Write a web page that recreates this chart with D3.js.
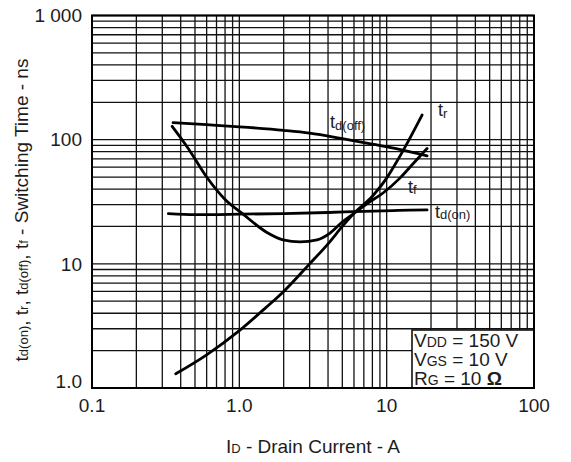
<!DOCTYPE html>
<html>
<head>
<meta charset="utf-8">
<script src="https://cdn.jsdelivr.net/npm/d3@7/dist/d3.min.js"></script>
<style>
  html, body { margin: 0; padding: 0; background: #fff; }
  svg { display: block; }
  text { font-family: "Liberation Sans", Arial, Helvetica, sans-serif; fill: #1c1c1c; }
</style>
</head>
<body>
<svg id="chart" width="571" height="462"></svg>
<script>
// Switching time vs. drain current (log-log)
const xTickValues = [0.1, 1, 10, 100];
const xTickLabels = ["0.1", "1.0", "10", "100"];
const yTickValues = [1, 10, 100, 1000];
const yTickLabels = ["1.0", "10", "100", "1 000"];

// td(on)
const tdOnCurrent = [0.33, 0.5, 1.0, 2.0, 4.0, 7.0, 12, 18.8];
const tdOnTime    = [25.4, 24.9, 25.1, 25.4, 25.9, 26.5, 26.9, 27.2];
// td(off)
const tdOffCurrent = [0.355, 0.6, 1.0, 2.0, 3.0, 5.0, 8.0, 12, 18.8];
const tdOffTime    = [137, 132, 127, 119, 113, 102, 92, 84, 74];
// tr
const trCurrent = [0.37, 0.6, 1.0, 1.5, 2.0, 3.0, 4.0, 5.0, 6.0, 8.0, 10, 12, 14, 17.4];
const trTime    = [1.3, 1.85, 2.9, 4.4, 6.0, 10.0, 14.5, 20, 25.5, 35, 49, 70, 97, 158];
// tf
const tfCurrent = [0.35, 0.45, 0.6, 0.8, 1.04, 1.54, 1.98, 2.58, 3.37, 4.13, 5.06, 6.0, 7.5, 9.45, 12.3, 15.1, 18.8];
const tfTime    = [128, 85, 50, 33, 25.6, 17.9, 15.6, 15.0, 15.6, 17.7, 22.0, 25.5, 31, 37.2, 49, 64, 85];

// label anchors in data units [current, time]
const labelAnchors = { "tr": [22.3, 155], "td(off)": [4.13, 124], "tf": [13.96, 37.2], "td(on)": [21.3, 23.4] };

const svg = d3.select("#chart");
const plotLeft = 92, plotRight = 534, plotTop = 15.5, plotBottom = 388;

const x = d3.scaleLog().domain([0.1, 100]).range([plotLeft, plotRight]);
const y = d3.scaleLog().domain([1, 1000]).range([plotBottom, plotTop]);

// grid: 1..9 within each decade
const xGrid = [];
[0.1, 1, 10].forEach(d => { for (let k = 1; k <= 9; k++) xGrid.push(d * k); });
xGrid.push(100);
const yGrid = [];
[1, 10, 100].forEach(d => { for (let k = 1; k <= 9; k++) yGrid.push(d * k); });
yGrid.push(1000);

const grid = svg.append("g").attr("stroke", "#111").attr("stroke-width", 1.3);
grid.selectAll("line.v").data(xGrid).join("line").attr("class", "v")
  .attr("x1", d => x(d)).attr("x2", d => x(d))
  .attr("y1", plotTop).attr("y2", plotBottom);
grid.selectAll("line.h").data(yGrid).join("line").attr("class", "h")
  .attr("y1", d => y(d)).attr("y2", d => y(d))
  .attr("x1", plotLeft).attr("x2", plotRight);

// condition box (covers grid)
const boxLeft = 412, boxTop = 330;
svg.append("rect")
  .attr("x", boxLeft).attr("y", boxTop)
  .attr("width", plotRight - boxLeft).attr("height", plotBottom - boxTop)
  .attr("fill", "#fff").attr("stroke", "#111").attr("stroke-width", 1.6);

// frame
svg.append("rect")
  .attr("x", plotLeft).attr("y", plotTop)
  .attr("width", plotRight - plotLeft).attr("height", plotBottom - plotTop)
  .attr("fill", "none").attr("stroke", "#000").attr("stroke-width", 2);

// curves
const line = d3.line()
  .x(d => x(d[0])).y(d => y(d[1]))
  .curve(d3.curveMonotoneX);
const series = [
  d3.zip(tdOnCurrent, tdOnTime),
  d3.zip(tdOffCurrent, tdOffTime),
  d3.zip(trCurrent, trTime),
  d3.zip(tfCurrent, tfTime)
];
svg.append("g").selectAll("path").data(series).join("path")
  .attr("d", line)
  .attr("fill", "none").attr("stroke", "#000")
  .attr("stroke-width", 2.8).attr("stroke-linecap", "round");

// curve labels: large "t" with smaller suffix
Object.entries(labelAnchors).forEach(([name, [cx, cy]]) => {
  const t = svg.append("text")
    .attr("x", x(cx)).attr("y", y(cy));
  t.append("tspan").attr("font-size", 18).text("t");
  t.append("tspan").attr("font-size", 13).attr("dy", 1.5).text(name.slice(1));
});

// axis tick labels
svg.append("g").selectAll("text").data(xTickValues).join("text")
  .attr("x", d => x(d)).attr("y", 412)
  .attr("text-anchor", "middle").attr("font-size", 19)
  .text((d, i) => xTickLabels[i]);

svg.append("g").selectAll("text").data(yTickValues).join("text")
  .attr("x", 82).attr("y", d => y(d))
  .attr("dy", d => d === 1 ? 0 : 6.8)
  .attr("text-anchor", "end").attr("font-size", 19)
  .text((d, i) => yTickLabels[i]);

// x-axis title
const xt = svg.append("text").attr("x", (plotLeft + plotRight) / 2).attr("y", 453)
  .attr("text-anchor", "middle").attr("font-size", 19);
xt.append("tspan").text("I");
xt.append("tspan").attr("font-size", 13).text("D");
xt.append("tspan").text(" - Drain Current - A");

// y-axis title
const yt = svg.append("text")
  .attr("transform", "translate(28,210) rotate(-90)")
  .attr("text-anchor", "middle").attr("font-size", 19);
[["t", false], ["d(on)", true], [", t", false], ["r", true], [", t", false], ["d(off)", true],
 [", t", false], ["f", true], [" - Switching Time - ns", false]].forEach(([s, small]) => {
  const ts = yt.append("tspan").text(s);
  if (small) ts.attr("font-size", 13);
});

// test conditions
const cond = [
  ["V", "DD", " = 150 V"],
  ["V", "GS", " = 10 V"],
  ["R", "G", " = 10 ", "Ω"]
];
cond.forEach((c, i) => {
  const t = svg.append("text").attr("x", boxLeft + 2).attr("y", 347 + i * 19).attr("font-size", 19);
  t.append("tspan").text(c[0]);
  t.append("tspan").attr("font-size", 14).text(c[1]);
  t.append("tspan").text(c[2]);
  if (c[3]) t.append("tspan").attr("font-weight", "bold").text(c[3]);
});
</script>
</body>
</html>
